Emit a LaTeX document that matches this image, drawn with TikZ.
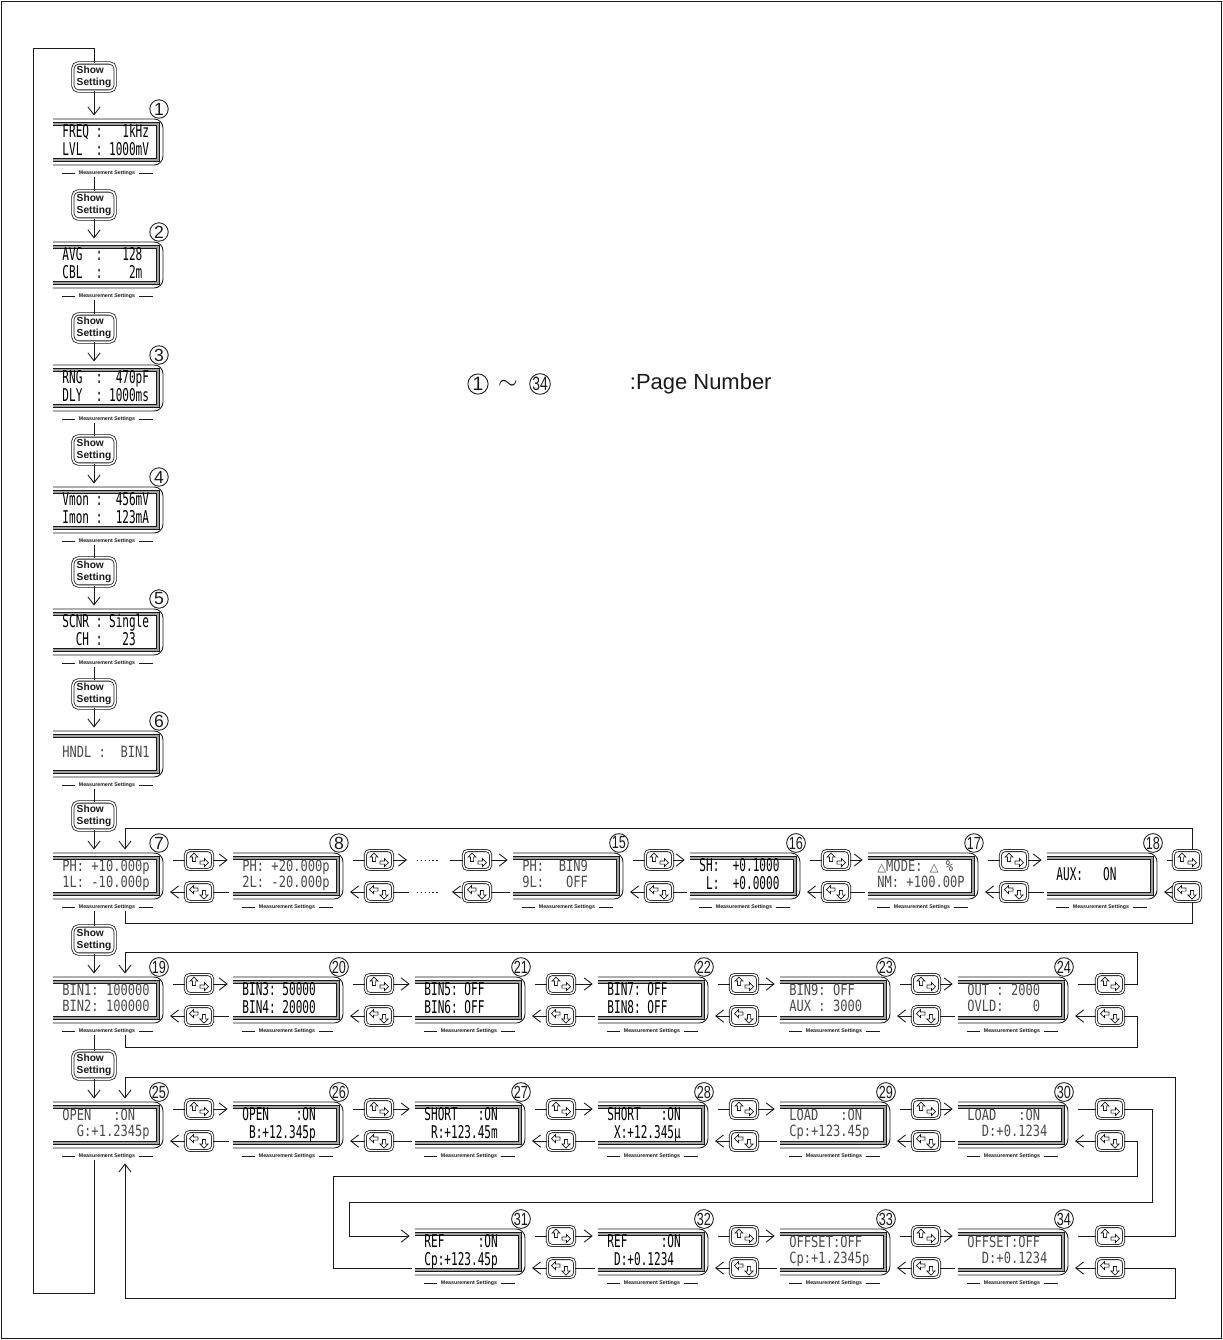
\documentclass[tikz,border=0pt]{standalone}
\usepackage{fontspec}
\usepackage{graphicx}
\usetikzlibrary{arrows.meta,calc}
\newfontfamily\keyfont{Liberation Sans}
\newfontfamily\symfont{DejaVu Sans}
\newfontfamily\lcdthinfont[FakeStretch=0.78]{DejaVu Sans Mono}
\newfontfamily\lcdboldfont[FakeStretch=0.63]{DejaVu Sans Mono}
\definecolor{ink}{HTML}{1A1A1A}
\definecolor{lcdgrey}{HTML}{4A4A4A}
\definecolor{bezel}{HTML}{A0A0A0}

\newcommand\thinlcd{\lcdthinfont\fontsize{8.8}{9.3}\selectfont}
\newcommand\boldlcd{\lcdboldfont\fontsize{10}{9.3}\selectfont}
\newcommand\pgnum[1]{\ifnum#1>9 \scalebox{0.72}[1]{#1}\else#1\fi}
\newcommand\lcdtab[2]{\begin{tabular}{@{}l@{}}#1\\#2\end{tabular}}
\newcommand\tri{{\symfont\fontsize{6.5}{9.3}\selectfont △}}

\tikzset{
  lcdbox/.style={minimum width=2.2cm, minimum height=0.92cm, inner sep=0pt, outer sep=0pt},
  lcdouter/.style={line width=0.5pt, rounded corners=5pt},
  lcdinner/.style={line width=0.35pt, double=bezel, double distance=1.2pt},
  pgno/.style={circle, draw, fill=white, line width=0.5pt, minimum size=10.5pt, inner sep=0pt,
    font=\keyfont\fontsize{10}{10}\selectfont},
  mslabel/.style={inner sep=0.6pt, font=\keyfont\bfseries\fontsize{3}{3}\selectfont},
  lcdthin/.style={anchor=west, inner sep=0pt, text=lcdgrey, font=\thinlcd},
  lcdbold/.style={anchor=west, inner sep=0pt, text=black, font=\boldlcd},
  showkey/.style={draw, double, double distance=0.9pt, line width=0.45pt, rounded corners=3pt,
    minimum width=24pt, minimum height=16pt, inner sep=1pt, align=left,
    font=\keyfont\bfseries\fontsize{5.8}{6.6}\selectfont},
  arrkey/.style={draw, fill=white, double, double distance=0.8pt, line width=0.45pt,
    rounded corners=2.5pt, minimum width=15.5pt, minimum height=10.8pt, inner sep=0pt},
  glyph/.style={draw, fill=white, line width=0.4pt},
  dotline/.style={dash pattern=on 0.8pt off 1.4pt}
}

% one display: number, left x, centre y, text style, first line, second line
\newcommand\lcd[6]{%
  \node[lcdbox] (p#1) at (#2+55,#3) {};
  \draw[lcdouter] (p#1.north west) -- (p#1.north east) -- (p#1.south east) -- (p#1.south west);
  \draw[lcdinner] ($(p#1.north west)+(0,5)$) -- ($(p#1.north east)+(-5,5)$)
    -- ($(p#1.south east)+(-5,-5)$) -- ($(p#1.south west)+(0,-5)$);
  \node[#4] (t#1) at ($(p#1.west)+(9,0)$) {\lcdtab{#5}{#6}};
  \node[pgno] (n#1) at ($(p#1.north east)+(-4,-10)$) {\pgnum{#1}};
  \node[mslabel] (m#1) at ($(p#1.south)+(-1,8)$) {Measurement Settings};
  \draw ($(p#1.west |- m#1)+(9,0)$) -- ($(m#1.west)+(-2,0)$);
  \draw ($(m#1.east)+(2,0)$) -- ($(p#1.east |- m#1)+(-10,0)$);
}
% key glyphs
\newcommand\glyphup[1]{\draw[glyph,shift={($(#1)+(-5,-2.5)$)}] (0,-4.5) -- (4,-0.5) -- (1.6,-0.5)
  -- (1.6,4) -- (-1.6,4) -- (-1.6,-0.5) -- (-4,-0.5) -- cycle;}
\newcommand\glyphright[1]{\draw[glyph,shift={($(#1)+(5,2.5)$)}] (4.5,0) -- (0.5,-4) -- (0.5,-1.6)
  -- (-4,-1.6) -- (-4,1.6) -- (0.5,1.6) -- (0.5,4) -- cycle;}
\newcommand\glyphleft[1]{\draw[glyph,shift={($(#1)+(-5,-2.5)$)}] (-4.5,0) -- (-0.5,-4) -- (-0.5,-1.6)
  -- (4,-1.6) -- (4,1.6) -- (-0.5,1.6) -- (-0.5,4) -- cycle;}
\newcommand\glyphdown[1]{\draw[glyph,shift={($(#1)+(5,2.5)$)}] (0,4.5) -- (4,0.5) -- (1.6,0.5)
  -- (1.6,-4) -- (-1.6,-4) -- (-1.6,0.5) -- (-4,0.5) -- cycle;}
% forward/back keys
\newcommand\keysonly[3]{%
  \node[arrkey] (fw#1) at (#2,#3-16) {};
  \node[arrkey] (bw#1) at (#2,#3+16) {};
  \glyphup{fw#1}\glyphright{fw#1}\glyphleft{bw#1}\glyphdown{bw#1}}
\newcommand\keypair[3]{%
  \keysonly{#1}{#2}{#3}
  \draw[shorten >=5.5pt] (fw#1) -- (fw#1 -| p#1.east);
  \draw[->,shorten >=4pt] (bw#1) -- (bw#1 -| p#1.east);}
\newcommand\linkto[2]{%
  \draw[->,shorten >=3pt] (fw#1) -- (fw#1 -| p#2.west);
  \draw[shorten >=2pt] (bw#1) -- (bw#1 -| p#2.west);}

\begin{document}
\begin{tikzpicture}[x=0.02cm,y=-0.02cm,>={Straight Barb[length=4.5pt,width=7pt]},line width=0.5pt,color=ink]
  \useasboundingbox (0,0) rectangle (1223,1340);
  \draw[line width=1.1pt] (1.5,1.5) rectangle (1221.5,1338.5);

  % legend
  \node[pgno, minimum size=11.5pt, font=\keyfont\fontsize{11}{11}\selectfont] (lg1) at (478,384) {1};
  \node[font=\Large] (lgsim) at (508,385) {$\sim$};
  \node[pgno, minimum size=11.5pt, font=\keyfont\fontsize{11}{11}\selectfont] (lg34) at (540,384) {\pgnum{34}};
  \node[anchor=east, inner sep=0pt, font=\keyfont\fontsize{12.5}{12.5}\selectfont] (lgtxt) at (772,384) {:Page Number};

  % left column
  \foreach \y [count=\i] in {77,205,328,450,572,694,816,940,1065}
    \node[showkey] (s\i) at (94,\y) {Show\\Setting};
  \lcd{1}{53}{142}{lcdbold}{FREQ~:~~~1kHz}{LVL~~:~1000mV}
  \lcd{2}{53}{265}{lcdbold}{AVG~~:~~~128}{CBL~~:~~~~2m}
  \lcd{3}{53}{388}{lcdbold}{RNG~~:~~470pF}{DLY~~:~1000ms}
  \lcd{4}{53}{510}{lcdbold}{Vmon~:~~456mV}{Imon~:~~123mA}
  \lcd{5}{53}{632}{lcdbold}{SCNR~:~Single}{~~CH~:~~~23}
  \lcd{6}{53}{754}{lcdthin}{HNDL~:~~BIN1}{}

  % row 7 to 18
  \lcd{7}{53}{876}{lcdthin}{PH:~+10.000p}{1L:~-10.000p}
  \lcd{8}{233}{876}{lcdthin}{PH:~+20.000p}{2L:~-20.000p}
  \lcd{15}{513}{876}{lcdthin}{PH:~~BIN9}{9L:~~~OFF}
  \lcd{16}{690}{876}{lcdbold}{SH:~~+0.1000}{~L:~~+0.0000}
  \lcd{17}{868}{876}{lcdthin}{\tri MODE:~\tri~\%}{NM:~+100.00P}
  \lcd{18}{1047}{876}{lcdbold}{AUX:~~~ON}{}
  \keypair{7}{199}{876} \linkto{7}{8}
  \keypair{8}{379}{876}
  \keysonly{14}{477}{876} \linkto{14}{15}
  \keypair{15}{659}{876} \linkto{15}{16}
  \keypair{16}{836}{876} \linkto{16}{17}
  \keypair{17}{1014}{876} \linkto{17}{18}
  \keypair{18}{1187}{876}
  \coordinate (d8a) at (407,860);
  \coordinate (d8b) at (417,860);
  \coordinate (d8c) at (440,860);
  \coordinate (d8d) at (450,860);
  \coordinate (d8e) at (409,892);
  \coordinate (d8f) at (417,892);
  \coordinate (d8g) at (440,892);
  \coordinate (d8h) at (452,892);
  \draw[->] (fw8) -- (d8a);
  \draw[dotline] (d8b) -- (d8c);
  \draw (d8d) -- (fw14);
  \draw (bw8) -- (d8e);
  \draw[dotline] (d8f) -- (d8g);
  \draw[->] (bw14) -- (d8h);

  % row 19 to 24
  \lcd{19}{53}{1000}{lcdthin}{BIN1:~100000}{BIN2:~100000}
  \lcd{20}{233}{1000}{lcdbold}{BIN3:~50000}{BIN4:~20000}
  \lcd{21}{415}{1000}{lcdbold}{BIN5:~OFF}{BIN6:~OFF}
  \lcd{22}{598}{1000}{lcdbold}{BIN7:~OFF}{BIN8:~OFF}
  \lcd{23}{780}{1000}{lcdthin}{BIN9:~OFF}{AUX~:~3000}
  \lcd{24}{958}{1000}{lcdthin}{OUT~:~2000}{OVLD:~~~~0}
  \keypair{19}{199}{1000} \linkto{19}{20}
  \keypair{20}{379}{1000} \linkto{20}{21}
  \keypair{21}{561}{1000} \linkto{21}{22}
  \keypair{22}{744}{1000} \linkto{22}{23}
  \keypair{23}{926}{1000} \linkto{23}{24}
  \keypair{24}{1110}{1000}

  % rows 25 to 34
  \lcd{25}{53}{1125}{lcdthin}{OPEN~~~:ON}{~~G:+1.2345p}
  \lcd{26}{233}{1125}{lcdbold}{OPEN~~~~:ON}{~B:+12.345p}
  \lcd{27}{415}{1125}{lcdbold}{SHORT~~~:ON}{~R:+123.45m}
  \lcd{28}{598}{1125}{lcdbold}{SHORT~~~:ON}{~X:+12.345μ}
  \lcd{29}{780}{1125}{lcdthin}{LOAD~~~:ON}{Cp:+123.45p}
  \lcd{30}{958}{1125}{lcdthin}{LOAD~~~:ON}{~~D:+0.1234}
  \lcd{31}{415}{1252}{lcdbold}{REF~~~~~:ON}{Cp:+123.45p}
  \lcd{32}{598}{1252}{lcdbold}{REF~~~~~:ON}{~D:+0.1234}
  \lcd{33}{780}{1252}{lcdthin}{OFFSET:OFF}{Cp:+1.2345p}
  \lcd{34}{958}{1252}{lcdthin}{OFFSET:OFF}{~~D:+0.1234}
  \keypair{25}{199}{1125} \linkto{25}{26}
  \keypair{26}{379}{1125} \linkto{26}{27}
  \keypair{27}{561}{1125} \linkto{27}{28}
  \keypair{28}{744}{1125} \linkto{28}{29}
  \keypair{29}{926}{1125} \linkto{29}{30}
  \keypair{30}{1110}{1125}
  \keypair{31}{561}{1252} \linkto{31}{32}
  \keypair{32}{744}{1252} \linkto{32}{33}
  \keypair{33}{926}{1252} \linkto{33}{34}
  \keypair{34}{1110}{1252}

  % show setting chain
  \foreach \k/\pn in {1/1,2/2,3/3,4/4,5/5,6/6,7/7,8/19,9/25}
    \draw[->,shorten >=2pt] (s\k) -- (s\k |- p\pn.north);
  \foreach \pn/\k in {1/2,2/3,3/4,4/5,5/6,6/7,7/8,19/9}
    \draw (s\k |- m\pn.south) -- (s\k);
  \coordinate (loopnw) at (33,48);
  \coordinate (loopsw) at (33,1293);
  \draw (s1 |- m25.south) -- (s1 |- loopsw) -- (loopsw) -- (loopnw) -- (s1 |- loopnw) -- (s1);

  % loop round row 7
  \coordinate (r7nw) at (125,828);
  \coordinate (r7ne) at (1192,828);
  \coordinate (r7sw) at (125,923);
  \coordinate (r7se) at (1192,923);
  \draw[->,shorten >=2pt] (fw18.north -| r7ne) -- (r7ne) -- (r7nw) -- (r7nw |- p7.north);
  \draw (r7sw |- m7.south) -- (r7sw) -- (r7se) -- (bw18.south -| r7se);

  % loop round row 19
  \coordinate (r19nw) at (125,952);
  \coordinate (r19ne) at (1137,952);
  \coordinate (r19sw) at (125,1047);
  \coordinate (r19se) at (1137,1047);
  \draw[->,shorten >=2pt] (fw24) -- (fw24 -| r19ne) -- (r19ne) -- (r19nw) -- (r19nw |- p19.north);
  \draw (r19sw |- m19.south) -- (r19sw) -- (r19se) -- (bw24 -| r19se) -- (bw24);

  % from 30 on to 31
  \coordinate (x30a) at (1152,1202);
  \coordinate (x30b) at (349,1202);
  \coordinate (x30c) at (1137,1176);
  \coordinate (x30d) at (333,1176);
  \draw[->,shorten >=3pt] (fw30) -- (fw30 -| x30a) -- (x30a) -- (x30b) -- (x30b |- fw31) -- (fw31 -| p31.west);
  \draw[shorten >=2pt] (bw30) -- (bw30 -| x30c) -- (x30c) -- (x30d) -- (x30d |- bw31) -- (bw31 -| p31.west);

  % loop round rows 25 and 31
  \coordinate (r25nw) at (125,1077);
  \coordinate (r25ne) at (1175,1077);
  \coordinate (r25sw) at (125,1298);
  \coordinate (r25se) at (1175,1298);
  \draw[->,shorten >=2pt] (fw34) -- (fw34 -| r25ne) -- (r25ne) -- (r25nw) -- (r25nw |- p25.north);
  \draw[->,shorten >=2pt] (bw34) -- (bw34 -| r25se) -- (r25se) -- (r25sw) -- (r25sw |- m25.south);
\end{tikzpicture}
\end{document}
